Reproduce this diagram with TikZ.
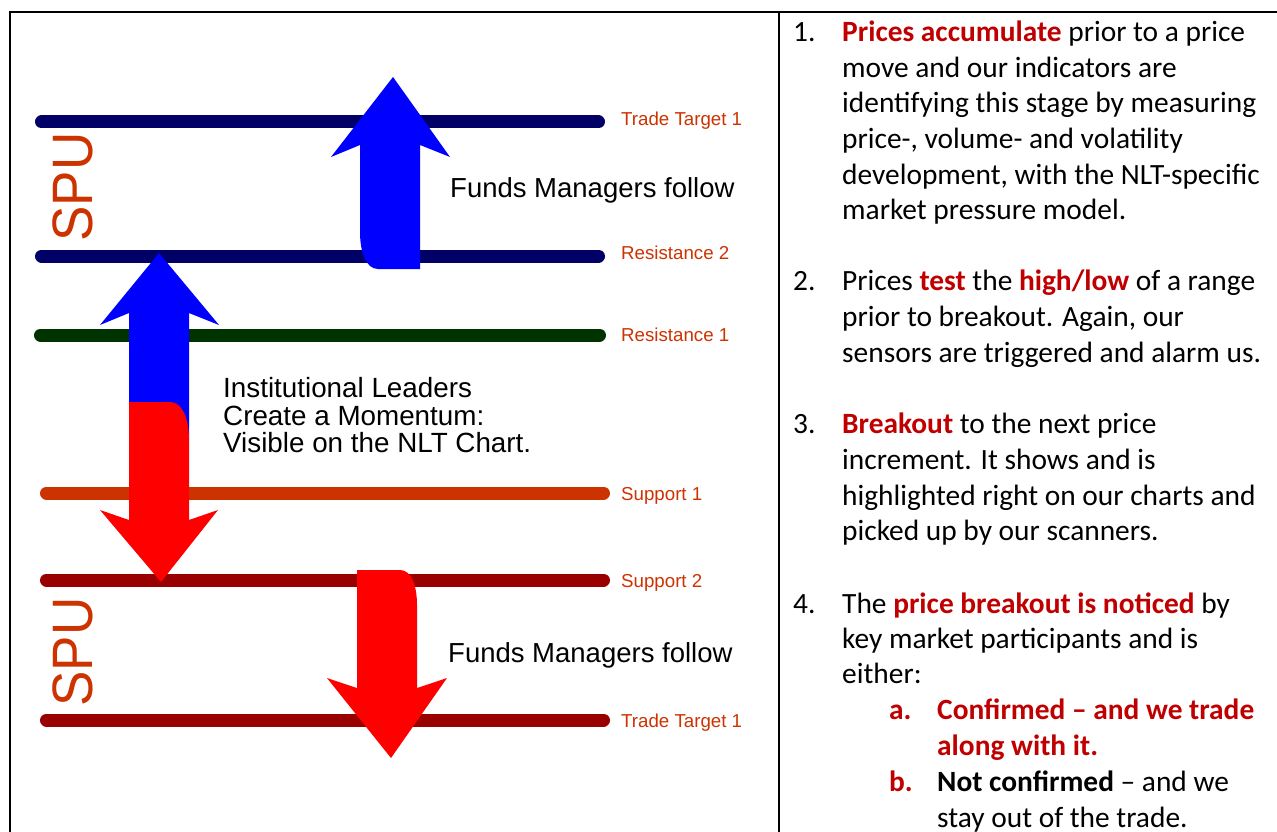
\documentclass[tikz,border=0pt]{standalone}
\usepackage{fontspec}
\setmainfont{Carlito}
\newfontfamily\arialf{Liberation Sans}
\definecolor{navy}{RGB}{0,0,102}
\definecolor{dgreen}{RGB}{0,51,0}
\definecolor{sorange}{RGB}{204,51,0}
\definecolor{dred}{RGB}{153,0,0}
\definecolor{lblorange}{RGB}{204,51,0}
\definecolor{abl}{RGB}{0,0,255}
\definecolor{ard}{RGB}{255,0,0}
\definecolor{txtred}{RGB}{192,0,0}
\newcommand{\rb}[1]{\textcolor{txtred}{\bfseries #1}}
\begin{document}
\begin{tikzpicture}[x=1pt,y=-1pt,
  level/.style={line width=13pt, line cap=round},
  lbl/.style={anchor=base west, inner sep=0pt, text=lblorange, font=\arialf\fontsize{18.7}{20}\selectfont},
  fm/.style={anchor=base west, inner sep=0pt, font=\arialf\fontsize{27.5}{30}\selectfont},
  inst/.style={anchor=base west, inner sep=0pt, font=\arialf\fontsize{27.8}{28}\selectfont},
  spu/.style={inner sep=0pt, rotate=90, text=sorange, font=\arialf\fontsize{57}{60}\selectfont},
  body/.style={anchor=base west, inner sep=0pt, font=\fontsize{29.4}{35}\selectfont},
  frame/.style={line width=2pt, black}]
\useasboundingbox (0,0) rectangle (1277,832);
\fill[white] (0,0) rectangle (1277,832);
% frame
\draw[frame] (9,12) -- (1277,12);
\draw[frame] (10,12) -- (10,832);
\draw[frame] (779,12) -- (779,832);
% level lines
\draw[level, navy] (41.5,122) -- (598.5,122);
\draw[level, navy] (41.5,256) -- (598.5,256);
\draw[level, dgreen] (40.5,335) -- (599.5,335);
\draw[level, sorange] (46.5,493) -- (603.5,493);
\draw[level, dred] (46.5,580) -- (603.5,580);
\draw[level, dred] (46.5,720) -- (603.5,720);
% labels
\node[lbl] (l1) at (621,126) {Trade Target 1};
\node[lbl] (l2) at (621,259) {Resistance 2};
\node[lbl] (l3) at (621,341) {Resistance 1};
\node[lbl] (l4) at (621,500) {Support 1};
\node[lbl] (l5) at (621,587) {Support 2};
\node[lbl] (l6) at (621,727) {Trade Target 1};
% SPU
\node[spu] (spu1) at (73,187) {\scalebox{0.93}[1]{SPU}};
\node[spu] (spu2) at (73,652) {\scalebox{0.93}[1]{SPU}};
% arrows
\fill[abl] (420,269) -- (420,145) -- (450,157) -- (393,77) -- (331,157) -- (360,145) -- (360,232)
  .. controls (360,252) and (366,269) .. (378,269) -- cycle;
\fill[abl] (189,440) -- (189,313) -- (219,325) -- (159,253) -- (100,325) -- (129,313) -- (129,440) -- cycle;
\fill[ard] (129,402) -- (170,402) .. controls (182,402) and (189,418) .. (189,440)
  -- (189,520) -- (218,510) -- (161,582) -- (100,510) -- (129,520) -- cycle;
\fill[ard] (357,570) -- (400,570) .. controls (411,570) and (417,585) .. (417,605)
  -- (417,688) -- (447,678) -- (391,758) -- (327,678) -- (357,688) -- cycle;
% arrow texts
\node[fm] (fm1) at (450,197) {Funds Managers follow};
\node[fm] (fm2) at (448,662) {Funds Managers follow};
\node[inst] (in1) at (223,397.5) {Institutional Leaders};
\node[inst] (in2) at (223,425) {Create a Momentum:};
\node[inst] (in3) at (223,452.5) {Visible on the NLT Chart.};
% right column
\node[body] (n1) at (793,42) {1.};
\node[body] (t1a) at (842,42) {\rb{Prices accumulate} prior to a price};
\node[body] (t1b) at (842,77.5) {move and our indicators are};
\node[body] (t1c) at (842,113) {identifying this stage by measuring};
\node[body] (t1d) at (842,148.5) {price-, volume- and volatility};
\node[body] (t1e) at (842,184) {development, with the NLT-specific};
\node[body] (t1f) at (842,219.5) {market pressure model.};
\node[body] (n2) at (793,290) {2.};
\node[body] (t2a) at (842,290) {Prices \rb{test} the \rb{high/low} of a range};
\node[body] (t2b) at (842,326) {prior to breakout. Again, our};
\node[body] (t2c) at (842,362) {sensors are triggered and alarm us.};
\node[body] (n3) at (793,433) {3.};
\node[body] (t3a) at (842,433) {\rb{Breakout} to the next price};
\node[body] (t3b) at (842,469) {increment. It shows and is};
\node[body] (t3c) at (842,505) {highlighted right on our charts and};
\node[body] (t3d) at (842,540) {picked up by our scanners.};
\node[body] (n4) at (793,613) {4.};
\node[body] (t4a) at (842,613) {The \rb{price breakout is noticed} by};
\node[body] (t4b) at (842,648) {key market participants and is};
\node[body] (t4c) at (842,683) {either:};
\node[body] (na) at (889,719) {\rb{a.}};
\node[body] (tae) at (937,719) {\rb{Confirmed – and we trade}};
\node[body] (taf) at (937,755) {\rb{along with it.}};
\node[body] (nb) at (889,791) {\rb{b.}};
\node[body] (tbe) at (937,791) {\textbf{Not confirmed} – and we};
\node[body] (tbf) at (937,827) {stay out of the trade.};
\end{tikzpicture}
\end{document}
